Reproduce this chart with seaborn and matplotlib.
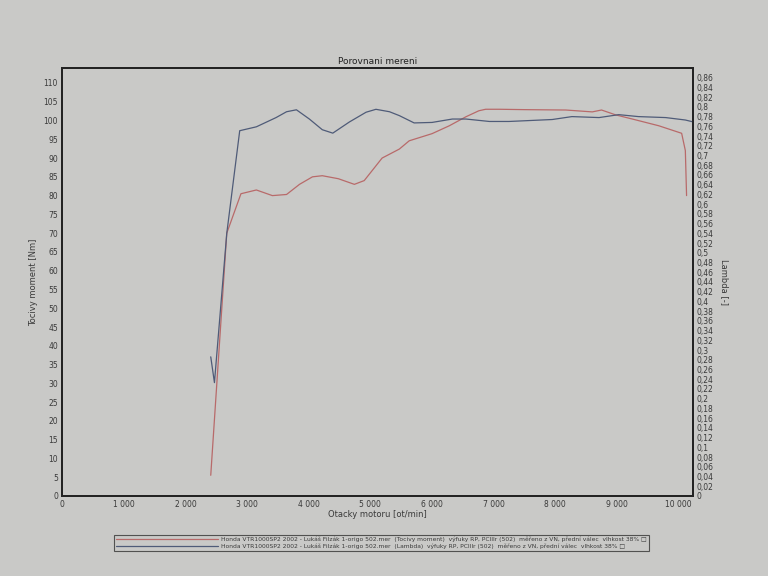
import matplotlib
matplotlib.use('Agg')
import matplotlib.pyplot as plt
import matplotlib.ticker as mticker
import seaborn as sns
import pandas as pd

#DATA
rpm_torque = [2410, 2670, 2900, 3150, 3410, 3640, 3850, 4060, 4220, 4480, 4740, 4900,
              5190, 5470, 5630, 6000, 6280, 6550, 6760, 6870, 7090, 7500, 8170, 8600,
              8750, 8980, 9250, 9680, 10050, 10110, 10130]
torque = [5.5, 70, 80.5, 81.5, 80, 80.3, 83, 85, 85.3, 84.5, 83, 84,
          90, 92.4, 94.6, 96.5, 98.6, 101, 102.6, 103, 103, 102.9, 102.8, 102.3,
          102.8, 101.5, 100.4, 98.6, 96.6, 92, 80]

rpm_lambda = [2410, 2470, 2670, 2880, 3150, 3470, 3640, 3800, 4010, 4220, 4390, 4660,
              4930, 5090, 5310, 5470, 5710, 6000, 6330, 6550, 6930, 7250, 7950, 8270,
              8710, 9030, 9350, 9790, 10110, 10240]
lam = [0.286, 0.233, 0.54, 0.751, 0.759, 0.778, 0.79, 0.794, 0.775, 0.753, 0.746, 0.769,
       0.789, 0.795, 0.79, 0.782, 0.767, 0.768, 0.775, 0.775, 0.77, 0.77, 0.774, 0.78,
       0.778, 0.784, 0.78, 0.778, 0.773, 0.769]

label_t = ("Honda VTR1000SP2 2002 - Lukáš Filzák 1-origo 502.mer  (Tocivy moment)  "
           "výfuky RP, PCIIIr (502)  měřeno z VN, přední válec  vlhkost 38% \u25a1")
label_l = ("Honda VTR1000SP2 2002 - Lukáš Filzák 1-origo 502.mer  (Lambda)  "
           "výfuky RP, PCIIIr (502)  měřeno z VN, přední válec  vlhkost 38% \u25a1")

df_t = pd.DataFrame({'rpm': rpm_torque, 'val': torque})
df_l = pd.DataFrame({'rpm': rpm_lambda, 'val': lam})

#PLOT
sns.set_style('white')
plt.rcParams['font.family'] = ['DejaVu Sans']
paper = '#c9c9c7'
fig = plt.figure(figsize=(7.68, 5.76), dpi=100, facecolor=paper)
ax = fig.add_axes([0.081, 0.139, 0.821, 0.743])
ax.set_facecolor(paper)
ax2 = ax.twinx()

red = '#b86a6a'
blue = '#4f5b78'
sns.lineplot(data=df_t, x='rpm', y='val', ax=ax, color=red, lw=0.9, sort=False, label=label_t)
sns.lineplot(data=df_l, x='rpm', y='val', ax=ax2, color=blue, lw=0.9, sort=False, label=label_l)

ax.set_xlim(0, 10230)
ax.set_ylim(0, 114)
ax2.set_ylim(0, 0.88)

ax.set_xticks(range(0, 10001, 1000))
ax.xaxis.set_major_formatter(mticker.FuncFormatter(lambda v, p: f"{int(v):,}".replace(',', ' ')))
ax.set_yticks(range(0, 111, 5))
ax2.set_yticks([i / 100 for i in range(0, 87, 2)])
ax2.yaxis.set_major_formatter(mticker.FuncFormatter(lambda v, p: f"{v:.2f}".rstrip('0').rstrip('.').replace('.', ',')))

txt = '#3a3a3a'
for a in (ax, ax2):
    a.tick_params(length=0, labelsize=5.5, colors=txt, pad=3)
    for s in a.spines.values():
        s.set_color('#222222')
        s.set_linewidth(1.3)

ax.set_xlabel('Otacky motoru [ot/min]', fontsize=6, color=txt, labelpad=1)
ax.set_ylabel('Tocivy moment [Nm]', fontsize=6, color=txt)
ax.yaxis.set_label_coords(-0.038, 0.5)
ax2.set_ylabel('Lambda [-]', fontsize=6, color=txt, rotation=270)
ax2.yaxis.set_label_coords(1.058, 0.5)
ax.set_title('Porovnani mereni', fontsize=6.5, color='#222222', pad=3)

#Legend box below the plot
h1, l1 = ax.get_legend_handles_labels()
h2, l2 = ax2.get_legend_handles_labels()
if ax.get_legend():
    ax.get_legend().remove()
if ax2.get_legend():
    ax2.get_legend().remove()
leg = fig.legend(h1 + h2, l1 + l2, loc='lower left', bbox_to_anchor=(0.145, 0.038),
                 fontsize=4.3, frameon=True, fancybox=False, handlelength=17,
                 handletextpad=0.5, borderpad=0.35, labelspacing=0.2)
leg.get_frame().set_edgecolor('#333333')
leg.get_frame().set_facecolor(paper)
leg.get_frame().set_linewidth(0.8)
for t in leg.get_texts():
    t.set_color(txt)

plt.savefig('out.png', dpi=100, facecolor=paper)
